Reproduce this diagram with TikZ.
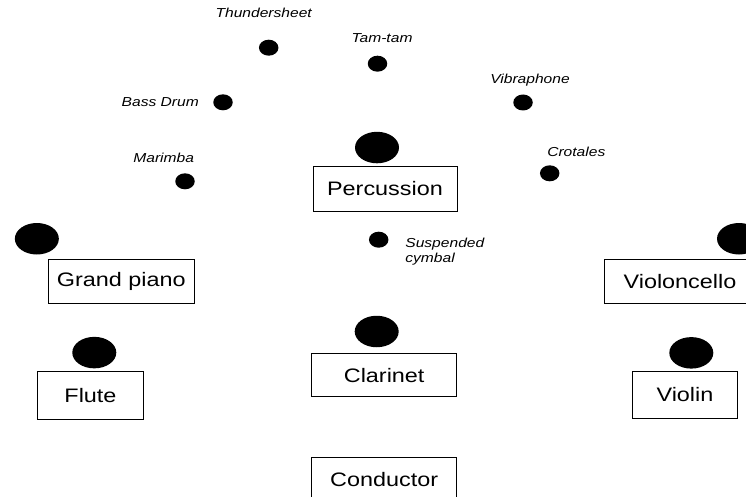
\documentclass[tikz,border=0pt]{standalone}
\usepackage{fontspec}
\setmainfont{Liberation Sans}[FakeStretch=1.2]
\usetikzlibrary{positioning, shapes.geometric}
\tikzstyle{seatBox} = [shape=rectangle, draw=black, text=black, line width=1pt,
	align=center, fill=white, inner sep=0pt, minimum height=44pt,
	font=\fontsize{19.5}{23}\selectfont]
\tikzstyle{playerDot} = [shape=ellipse, fill=black, inner sep=0pt,
	minimum width=44pt, minimum height=31.5pt]
\tikzstyle{instrDot} = [shape=ellipse, fill=black, inner sep=0pt,
	minimum width=19.5pt, minimum height=16pt]
\tikzstyle{instrLabel} = [inner sep=0pt, align=left,
	font=\fontsize{13}{15}\selectfont\itshape]

\begin{document}
\begin{tikzpicture}[x=1pt, y=-1pt]
  \clip (0,0) rectangle (746,497);

  % players
  \node (PERC) [seatBox, minimum width=144pt] at (385,189) {Percussion};
  \node (PIAN) [seatBox, minimum width=145.7pt] at (121.2,281.2) {Grand piano};
  \node (CELL) [seatBox, minimum width=152pt] at (680,281.2) {Violoncello};
  \node (CLAR) [seatBox, minimum width=145pt, minimum height=42.7pt] at (384.2,375.3) {Clarinet};
  \node (FLUT) [seatBox, minimum width=105.6pt, minimum height=48.3pt] at (90.5,395.2) {Flute};
  \node (VILN) [seatBox, minimum width=104.6pt, minimum height=46.6pt] at (685,395) {Violin};
  \node (COND) [seatBox, minimum width=145pt] at (384.2,479.3) {Conductor};

  \node (PERCd) [playerDot, above=3pt of PERC, xshift=-8pt] {};
  \node (PIANd) [playerDot, above=4pt of PIAN.north west, xshift=-11pt] {};
  \node (CELLd) [playerDot, above=4pt of CELL.north east, xshift=-17.5pt] {};
  \node (CLARd) [playerDot, above=6pt of CLAR, xshift=-7.5pt] {};
  \node (FLUTd) [playerDot, above=2pt of FLUT, xshift=3.8pt] {};
  \node (VILNd) [playerDot, above=2.4pt of VILN, xshift=6.3pt] {};

  % percussion set-up
  \node (THUN) [instrDot] at (268.7,47.7) {};
  \node (TAMT) [instrDot] at (377.5,63.7) {};
  \node (BASS) [instrDot] at (223,102.3) {};
  \node (VIBR) [instrDot] at (523,102.5) {};
  \node (CROT) [instrDot] at (549.7,173.3) {};
  \node (MARI) [instrDot] at (185,181.3) {};
  \node (SUSP) [instrDot] at (378.7,239.7) {};

  \node (THUNl) [instrLabel, above=21.4pt of THUN, xshift=-5pt] {Thundersheet};
  \node (TAMTl) [instrLabel, above=13pt of TAMT, xshift=4.5pt] {Tam-tam};
  \node (BASSl) [instrLabel, left=14pt of BASS] {Bass Drum};
  \node (VIBRl) [instrLabel, above=7.7pt of VIBR, xshift=7pt] {Vibraphone};
  \node (CROTl) [instrLabel, above=8.6pt of CROT, xshift=26.6pt] {Crotales};
  \node (MARIl) [instrLabel, above=10pt of MARI, xshift=-21.3pt] {Marimba};
  \node (SUSPl) [instrLabel, right=16.5pt of SUSP, yshift=-11.5pt] {Suspended\\cymbal};

\end{tikzpicture}
\end{document}
